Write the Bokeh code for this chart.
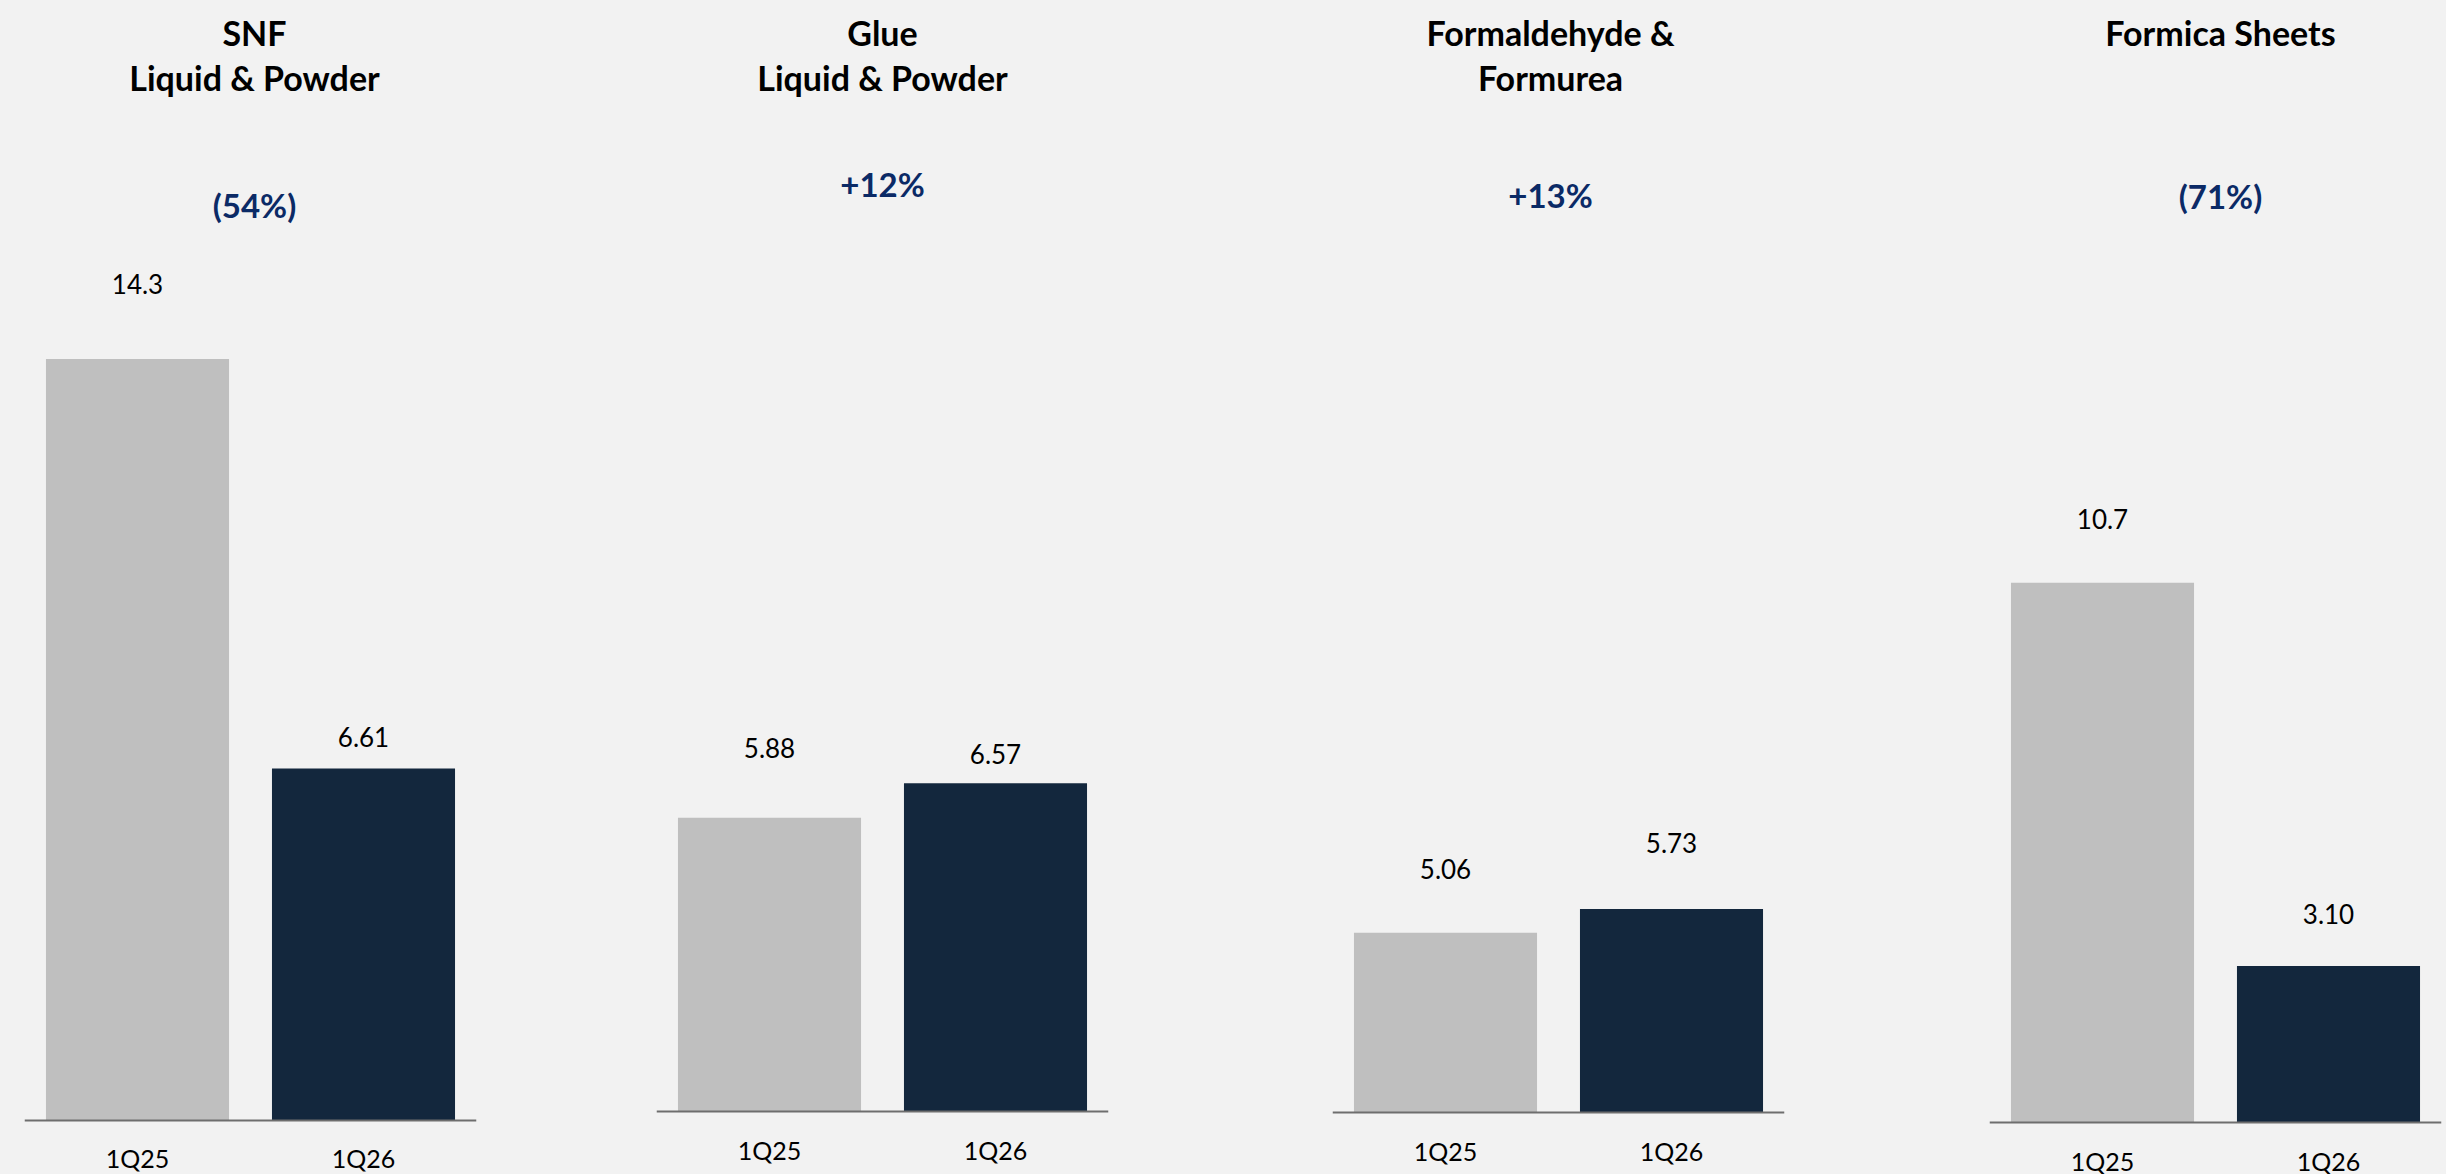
from bokeh.plotting import figure
from bokeh.layouts import row
from bokeh.models import ColumnDataSource, Range1d, FactorRange, Span
from bokeh.core.properties import value
from bokeh.embed import file_html
from bokeh.resources import INLINE

# ---------------- data ----------------
categories = ["1Q25", "1Q26"]
segment_titles = [
    ["SNF", "Liquid & Powder"],
    ["Glue", "Liquid & Powder"],
    ["Formaldehyde &", "Formurea"],
    ["Formica Sheets"],
]
values_1q25 = [14.3, 5.88, 5.06, 10.7]
values_1q26 = [6.61, 6.57, 5.73, 3.10]
labels_1q25 = ["14.3", "5.88", "5.06", "10.7"]
labels_1q26 = ["6.61", "6.57", "5.73", "3.10"]
changes = ["(54%)", "+12%", "+13%", "(71%)"]

# ---------------- layout / style ----------------
BG = "#f2f2f2"
GRAY = "#bfbfbf"
NAVY = "#13273d"
PCT_COLOR = "#0b2a66"
FONT = "Lato"

PAGE_TOP = 0
PAGE_BOTTOM = 1174
AXIS_Y = [1120, 1111, 1112, 1122]          # pixel row of each baseline
PX_PER_UNIT = [53.25, 49.95, 35.5, 50.45]  # vertical scale of each panel
FIG_L = [0, 566, 1220, 1886]
FIG_R = [566, 1220, 1886, 2446]
FRAME_L = [24, 656, 1332, 1989]
FRAME_R = [476, 1108, 1784, 2441]
TITLE_ROWS = [32, 77]
TITLE_DX = [4, 0, -8, 5]
PCT_ROWS = [204, 183, 194, 195]
VAL_OFF = [[75, 32], [70, 29], [64, 66], [64, 52]]
CAT_OFF = [37, 38, 38, 38]

figs = []
for i in range(4):
    s = PX_PER_UNIT[i]
    y0 = -(PAGE_BOTTOM - AXIS_Y[i]) / s
    y1 = (AXIS_Y[i] - PAGE_TOP) / s
    p = figure(
        x_range=FactorRange(*categories),
        y_range=Range1d(y0, y1),
        width=FIG_R[i] - FIG_L[i],
        height=PAGE_BOTTOM - PAGE_TOP,
        output_backend="svg",
        toolbar_location=None,
        x_axis_location=None,
        y_axis_location=None,
        min_border_left=FRAME_L[i] - FIG_L[i],
        min_border_right=FIG_R[i] - FRAME_R[i],
        min_border_top=0,
        min_border_bottom=0,
    )
    p.background_fill_color = BG
    p.border_fill_color = BG
    p.outline_line_color = None
    p.xgrid.visible = False
    p.ygrid.visible = False

    src = ColumnDataSource(dict(
        x=categories,
        top=[values_1q25[i], values_1q26[i]],
        color=[GRAY, NAVY],
        text=[labels_1q25[i], labels_1q26[i]],
        yoff=[-VAL_OFF[i][0], -VAL_OFF[i][1]],
    ))
    p.vbar(x="x", top="top", width=0.81, fill_color="color", line_color=None, source=src)

    # baseline
    p.add_layout(Span(location=0, dimension="width", line_color="#6e6e6e", line_width=2))

    # value labels
    p.text(x="x", y="top", text="text", y_offset="yoff", source=src,
           text_align="center", text_baseline="middle",
           text_font=value(FONT), text_font_size="26px", text_color="#000000")

    # category labels
    p.text(x=categories, y=[0, 0], text=categories, y_offset=CAT_OFF[i],
           text_align="center", text_baseline="middle",
           text_font=value(FONT), text_font_size="25px", text_color="#000000")

    # titles
    for k, line in enumerate(segment_titles[i]):
        ty = (AXIS_Y[i] - TITLE_ROWS[k]) / s
        p.text(x=[1.0], y=[ty], text=[line], x_offset=TITLE_DX[i],
               text_align="center", text_baseline="middle",
               text_font=value(FONT), text_font_style="bold",
               text_font_size="34px", text_color="#000000")

    # change percentage
    py = (AXIS_Y[i] - PCT_ROWS[i]) / s
    p.text(x=[1.0], y=[py], text=[changes[i]], x_offset=TITLE_DX[i],
           text_align="center", text_baseline="middle",
           text_font=value(FONT), text_font_style="bold",
           text_font_size="33px", text_color=PCT_COLOR)

    figs.append(p)

layout = row(*figs, spacing=0, styles={"background-color": BG})
open("out.html", "w").write(file_html(layout, INLINE))
